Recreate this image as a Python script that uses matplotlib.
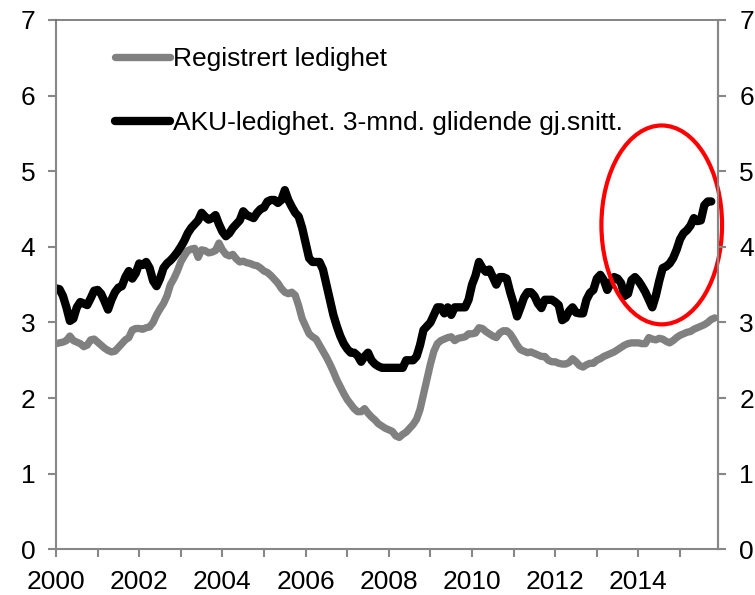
import numpy as np
import matplotlib
matplotlib.use("Agg")
import matplotlib.pyplot as plt
from matplotlib.patches import Ellipse

plt.rcParams['font.family'] = ['Liberation Sans', 'DejaVu Sans']

# Monthly data, starting January 2000
registrert = [
    2.72, 2.73, 2.74, 2.76, 2.82, 2.76, 2.74, 2.72, 2.68, 2.70, 2.77, 2.78,  # 2000
    2.74, 2.70, 2.66, 2.63, 2.61, 2.62, 2.67, 2.72, 2.77, 2.80, 2.90, 2.92,  # 2001
    2.92, 2.91, 2.93, 2.94, 3.00, 3.10, 3.18, 3.25, 3.35, 3.50, 3.58, 3.68,  # 2002
    3.80, 3.88, 3.95, 3.97, 3.98, 3.86, 3.96, 3.95, 3.92, 3.93, 3.95, 4.05,  # 2003
    3.96, 3.90, 3.88, 3.90, 3.84, 3.80, 3.81, 3.79, 3.78, 3.76, 3.75, 3.72,  # 2004
    3.68, 3.66, 3.62, 3.57, 3.52, 3.45, 3.40, 3.38, 3.40, 3.36, 3.22, 3.05,  # 2005
    2.95, 2.85, 2.81, 2.78, 2.70, 2.62, 2.54, 2.45, 2.35, 2.24, 2.15, 2.06,  # 2006
    1.98, 1.92, 1.86, 1.82, 1.82, 1.86, 1.80, 1.75, 1.71, 1.66, 1.63, 1.60,  # 2007
    1.58, 1.56, 1.50, 1.48, 1.52, 1.55, 1.60, 1.65, 1.72, 1.85, 2.05, 2.25,  # 2008
    2.45, 2.62, 2.72, 2.76, 2.78, 2.80, 2.81, 2.76, 2.79, 2.80, 2.81, 2.85,  # 2009
    2.85, 2.86, 2.93, 2.92, 2.88, 2.85, 2.82, 2.80, 2.86, 2.89, 2.89, 2.85,  # 2010
    2.78, 2.70, 2.64, 2.62, 2.60, 2.61, 2.59, 2.57, 2.55, 2.55, 2.50, 2.48,  # 2011
    2.48, 2.46, 2.45, 2.45, 2.47, 2.52, 2.48, 2.43, 2.41, 2.44, 2.46, 2.46,  # 2012
    2.50, 2.52, 2.55, 2.57, 2.59, 2.61, 2.64, 2.67, 2.70, 2.72, 2.73, 2.73,  # 2013
    2.73, 2.72, 2.72, 2.80, 2.78, 2.77, 2.79, 2.78, 2.75, 2.73, 2.76, 2.80,  # 2014
    2.83, 2.85, 2.87, 2.88, 2.91, 2.93, 2.95, 2.97, 3.00, 3.04, 3.06,        # 2015
]

aku = [
    3.45, 3.44, 3.35, 3.20, 3.02, 3.05, 3.20, 3.27, 3.25, 3.23, 3.32, 3.42,  # 2000
    3.43, 3.38, 3.28, 3.17, 3.30, 3.40, 3.46, 3.48, 3.60, 3.68, 3.58, 3.65,  # 2001
    3.78, 3.76, 3.80, 3.72, 3.55, 3.48, 3.58, 3.72, 3.78, 3.82, 3.87, 3.93,  # 2002
    4.00, 4.08, 4.18, 4.25, 4.30, 4.35, 4.45, 4.40, 4.36, 4.38, 4.42, 4.30,  # 2003
    4.20, 4.14, 4.18, 4.25, 4.30, 4.35, 4.47, 4.42, 4.40, 4.38, 4.45, 4.50,  # 2004
    4.52, 4.60, 4.62, 4.62, 4.58, 4.62, 4.75, 4.62, 4.53, 4.45, 4.40, 4.25,  # 2005
    4.05, 3.85, 3.80, 3.80, 3.80, 3.70, 3.50, 3.30, 3.10, 2.95, 2.82, 2.72,  # 2006
    2.65, 2.60, 2.60, 2.56, 2.48, 2.55, 2.60, 2.50, 2.45, 2.42, 2.40, 2.40,  # 2007
    2.40, 2.40, 2.40, 2.40, 2.40, 2.50, 2.50, 2.50, 2.55, 2.70, 2.90, 2.95,  # 2008
    3.00, 3.10, 3.20, 3.20, 3.12, 3.20, 3.10, 3.20, 3.20, 3.20, 3.20, 3.30,  # 2009
    3.50, 3.62, 3.80, 3.72, 3.67, 3.70, 3.60, 3.50, 3.60, 3.60, 3.58, 3.40,  # 2010
    3.25, 3.08, 3.20, 3.33, 3.40, 3.40, 3.35, 3.25, 3.19, 3.30, 3.30, 3.30,  # 2011
    3.27, 3.23, 3.03, 3.06, 3.15, 3.20, 3.13, 3.12, 3.12, 3.30, 3.39, 3.43,  # 2012
    3.58, 3.63, 3.56, 3.43, 3.52, 3.60, 3.58, 3.52, 3.35, 3.38, 3.56, 3.60,  # 2013
    3.55, 3.48, 3.40, 3.30, 3.20, 3.35, 3.55, 3.72, 3.74, 3.78, 3.85, 3.96,  # 2014
    4.10, 4.18, 4.22, 4.28, 4.38, 4.34, 4.35, 4.55, 4.60, 4.60,              # 2015
]

labels = ["Registrert ledighet", "AKU-ledighet. 3-mnd. glidende gj.snitt."]
year_ticks = list(range(2000, 2016))
y_ticks = list(range(0, 8))

t_reg = 2000 + np.arange(len(registrert)) / 12.0
t_aku = 2000 + np.arange(len(aku)) / 12.0

fig = plt.figure(figsize=(7.55, 5.95), dpi=100)
ax = fig.add_axes([0.0742, 0.0768, 0.8772, 0.8896])

l1, = ax.plot(t_reg, registrert, color='#808080', lw=5.3,
              solid_capstyle='round', solid_joinstyle='round', label=labels[0])
l2, = ax.plot(t_aku, aku, color='black', lw=6,
              solid_capstyle='round', solid_joinstyle='round', label=labels[1])

ax.set_xlim(2000, 2015.92)
ax.set_ylim(0, 7)

spine_col = '#878787'
for s in ax.spines.values():
    s.set_color(spine_col)
    s.set_linewidth(1.5)
ax.spines['top'].set_color('#6e6e6e')
ax.spines['top'].set_linewidth(1.2)

ax.set_xticks(year_ticks)
ax.set_xticklabels([str(y) if y % 2 == 0 else "" for y in year_ticks])
ax.set_yticks(y_ticks)
ax.tick_params(axis='both', direction='out', length=6, width=1.5,
               color=spine_col, labelsize=19, pad=9)

ax2 = ax.twinx()
ax2.set_ylim(0, 7)
ax2.set_yticks(y_ticks)
ax2.tick_params(axis='y', direction='out', length=6, width=1.5,
                color=spine_col, labelsize=19, pad=9)
for s in ax2.spines.values():
    s.set_visible(False)
ax2.spines['right'].set_visible(True)
ax2.spines['right'].set_color(spine_col)
ax2.spines['right'].set_linewidth(1.5)

ell = Ellipse((2014.56, 4.29), width=2.9, height=2.63, fill=False,
              edgecolor='#ff0000', lw=3, clip_on=False, zorder=5)
ax.add_patch(ell)

leg = ax.legend(handles=[l1, l2], loc='upper left',
                bbox_to_anchor=(0.089, 0.949), frameon=False,
                fontsize=19, handlelength=2.1, handletextpad=0.1,
                labelspacing=1.52, borderpad=0, borderaxespad=0)

fig.savefig("out.png", dpi=100)
